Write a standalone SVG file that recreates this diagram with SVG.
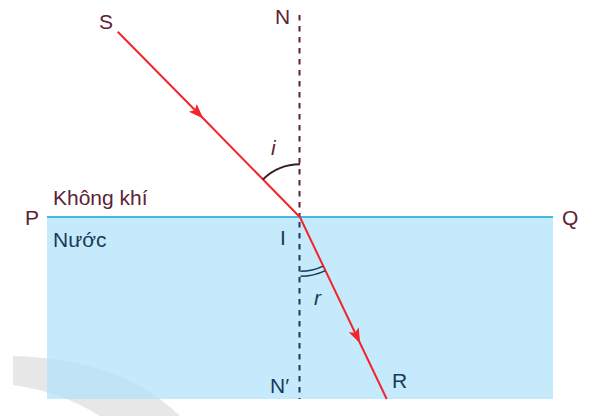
<svg xmlns="http://www.w3.org/2000/svg" width="590" height="416" viewBox="0 0 590 416">
<style>
.lbl{font-family:"Liberation Sans",Arial,sans-serif;font-size:21px}
.air{fill:#5e2236}
.wat{fill:#1c3858}
.it{font-style:italic}
.ray{fill:none;stroke:#f4242b;stroke-width:2}
.nrm{fill:none;stroke-width:2;stroke-dasharray:5.5 5.5}
</style>
<defs>
<marker id="ah" markerUnits="userSpaceOnUse" markerWidth="20" markerHeight="16" viewBox="-16 -8 20 16" refX="0" refY="0" orient="auto">
<path d="M0,0 L-15,-5.5 L-12,0 L-15,5.5 Z" fill="#f4242b"/>
</marker>
</defs>
<rect width="590" height="416" fill="#ffffff"/>
<g id="background">
<path d="M13,356 Q120,358 180,416 L100,416 Q62,392 13,385 Z" fill="#e7e7e7"/>
</g>
<g id="water">
<rect x="47" y="217" width="506" height="182" fill="#b0e3fa" fill-opacity="0.75"/>
<line x1="47" y1="217" x2="553" y2="217" stroke="#45b6e8" stroke-width="2"/>
</g>
<g id="connectors">
<line class="nrm" x1="299.5" y1="15" x2="299.5" y2="217" stroke="#5e2236"/>
<line class="nrm" x1="299.5" y1="222" x2="299.5" y2="399" stroke="#1c3858"/>
<path id="incident" class="ray" d="M117.7,31.7 L203.3,118.5 L300,217.3" marker-mid="url(#ah)"/>
<path id="refracted" class="ray" d="M300,217.3 L360.2,343.5 L386.7,399" marker-mid="url(#ah)"/>
<path id="angle-i" d="M262.9,179.5 A53,53 0 0 1 300,164.3" fill="none" stroke="#3a1f2a" stroke-width="2"/>
<path id="angle-r1" d="M300.5,271.3 A54,54 0 0 0 323.2,266.1" fill="none" stroke="#1c3858" stroke-width="1.6"/>
<path id="angle-r2" d="M300.5,276.3 A59,59 0 0 0 325.4,270.6" fill="none" stroke="#1c3858" stroke-width="1.6"/>
</g>
<g id="label-S"><text class="lbl air" x="99" y="29">S</text></g>
<g id="label-N"><text class="lbl air" x="275" y="24">N</text></g>
<g id="label-i"><text class="lbl air it" x="271" y="155">i</text></g>
<g id="label-air"><text class="lbl air" x="53" y="205">Không khí</text></g>
<g id="label-P"><text class="lbl air" x="25" y="225">P</text></g>
<g id="label-Q"><text class="lbl air" x="562" y="225">Q</text></g>
<g id="label-water"><text class="lbl wat" x="53" y="247">Nước</text></g>
<g id="label-I"><text class="lbl wat" x="280" y="245">I</text></g>
<g id="label-r"><text class="lbl wat it" x="314" y="305">r</text></g>
<g id="label-N2"><text class="lbl wat" x="270" y="393">N′</text></g>
<g id="label-R"><text class="lbl wat" x="392" y="388">R</text></g>
</svg>
